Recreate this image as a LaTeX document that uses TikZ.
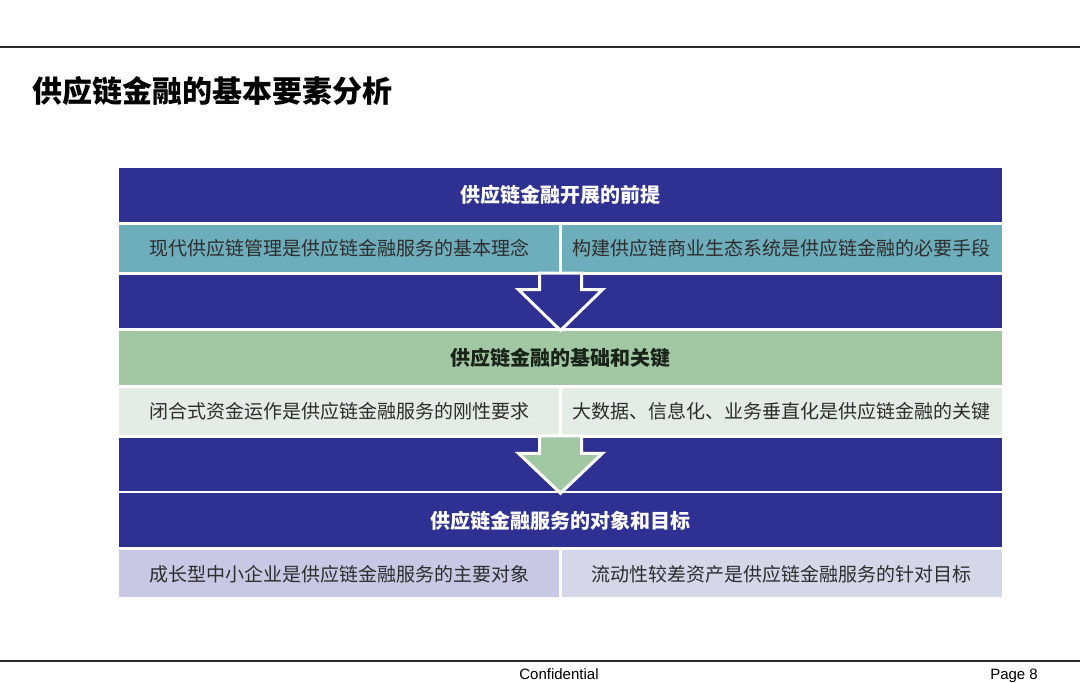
\documentclass[tikz,border=0pt]{standalone}
\usepackage{fontspec}
\newfontfamily\cjk{Noto Sans CJK SC}
\newfontfamily\arial{Liberation Sans}
\usepackage{tikz}
\usetikzlibrary{calc, positioning}
\definecolor{navy}{RGB}{46,49,146}
\definecolor{tealcell}{RGB}{110,173,187}
\definecolor{sage}{RGB}{161,199,163}
\definecolor{palegreen}{RGB}{228,236,229}
\definecolor{lavender}{RGB}{200,200,229}
\definecolor{palelav}{RGB}{214,214,233}
\definecolor{txtgrey}{RGB}{45,45,45}
\definecolor{darktext}{RGB}{25,35,25}
\definecolor{rulegrey}{RGB}{40,40,40}
\tikzstyle{head} = [rectangle, minimum width=883pt, minimum height=54pt, inner sep=0pt, fill=navy, text=white, font=\cjk\bfseries\fontsize{20}{24}\selectfont]
\tikzstyle{band} = [rectangle, minimum width=883pt, minimum height=53pt, inner sep=0pt, fill=navy]
\tikzstyle{cell} = [rectangle, minimum width=440.25pt, minimum height=47pt, inner sep=0pt, text=txtgrey, font=\cjk\fontsize{19}{23}\selectfont]
\tikzstyle{hollow} = [draw=white, line width=3pt, line join=miter]
\tikzstyle{foot} = [inner sep=0pt, text=black, font=\arial\fontsize{15}{18}\selectfont]

\begin{document}
\begin{tikzpicture}
    \fill [white] (0,0) rectangle (1080pt,-683pt);
    \useasboundingbox (0,0) rectangle (1080pt,-683pt);
    % title
    \draw [line width=2pt, rulegrey] (0,-47pt) -- (1080pt,-47pt);
    \node (Title) [anchor=west, inner sep=0pt, font=\cjk\bfseries\fontsize{30}{36}\selectfont] at (32pt,-91pt) {供应链金融的基本要素分析};
    % premise
    \node (Head1) [head] at (560.5pt,-195pt) {供应链金融开展的前提};
    \node (Cell1L) [cell, fill=tealcell, below=2.5pt of Head1.south west, anchor=north west] {现代供应链管理是供应链金融服务的基本理念};
    \node (Cell1R) [cell, fill=tealcell, below=2.5pt of Head1.south east, anchor=north east] {构建供应链商业生态系统是供应链金融的必要手段};
    \node (Band1) [band, below=2.5pt of Cell1L.south west, anchor=north west] {};
    % basis and key
    \node (Head2) [head, fill=sage, text=darktext, below=2.5pt of Band1] {供应链金融的基础和关键};
    \node (Cell2L) [cell, fill=palegreen, below=2.5pt of Head2.south west, anchor=north west] {闭合式资金运作是供应链金融服务的刚性要求};
    \node (Cell2R) [cell, fill=palegreen, below=2.5pt of Head2.south east, anchor=north east] {大数据、信息化、业务垂直化是供应链金融的关键};
    \node (Band2) [band, below=2.5pt of Cell2L.south west, anchor=north west] {};
    % objects and targets
    \node (Head3) [head, below=2.5pt of Band2] {供应链金融服务的对象和目标};
    \node (Cell3L) [cell, fill=lavender, below=2.5pt of Head3.south west, anchor=north west] {成长型中小企业是供应链金融服务的主要对象};
    \node (Cell3R) [cell, fill=palelav, below=2.5pt of Head3.south east, anchor=north east] {流动性较差资产是供应链金融服务的针对目标};
    % arrows
    \draw [hollow, fill=navy] ($(Band1.north)+(-21pt,1.5pt)$) -- ($(Band1.north)+(-21pt,-15pt)$) -- ($(Band1.north)+(-42pt,-15pt)$) -- (Head2.north) -- ($(Band1.north)+(42pt,-15pt)$) -- ($(Band1.north)+(21pt,-15pt)$) -- ($(Band1.north)+(21pt,1.5pt)$) -- cycle;
    \draw [hollow, fill=sage] ($(Band2.north)+(-21pt,1.5pt)$) -- ($(Band2.north)+(-21pt,-16pt)$) -- ($(Band2.north)+(-42pt,-16pt)$) -- (Head3.north) -- ($(Band2.north)+(42pt,-16pt)$) -- ($(Band2.north)+(21pt,-16pt)$) -- ($(Band2.north)+(21pt,1.5pt)$) -- cycle;
    % footer
    \draw [line width=1.5pt, rulegrey] (0,-661pt) -- (1080pt,-661pt);
    \node (Conf) [foot, anchor=base] at (559pt,-679pt) {Confidential};
    \node (Page) [foot, anchor=base east] at (1038pt,-679pt) {Page 8};
\end{tikzpicture}
\end{document}
